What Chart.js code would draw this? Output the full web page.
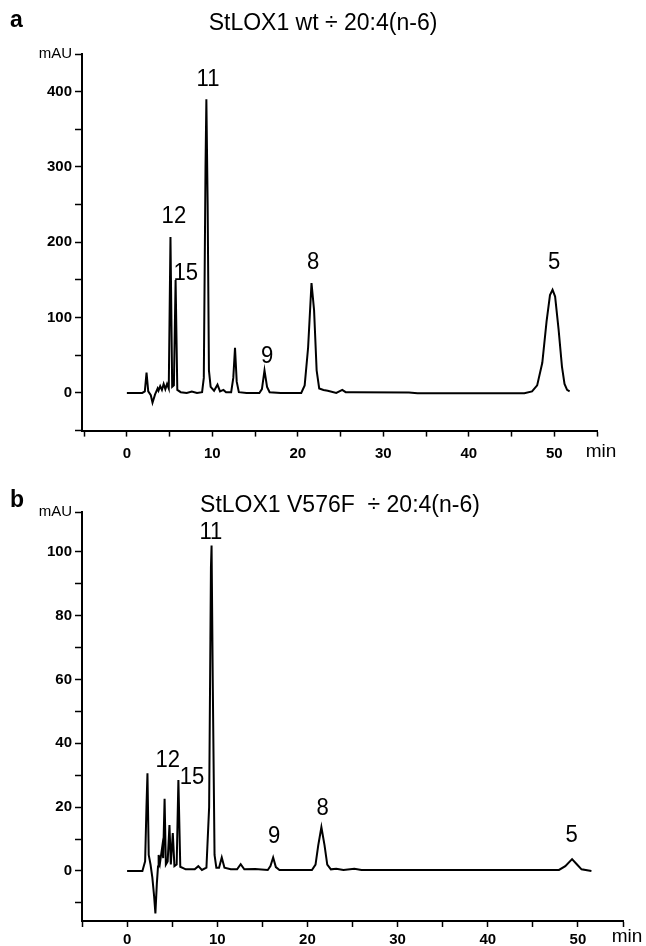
<!DOCTYPE html>
<html>
<head>
<meta charset="utf-8">
<script src="https://cdn.jsdelivr.net/npm/chart.js@4.4.1/dist/chart.umd.min.js"></script>
<style>
  html, body { margin: 0; padding: 0; background: #fff; }
  #page { position: relative; width: 646px; height: 946px; overflow: hidden; font-family: "Liberation Sans", Arial, sans-serif; color: #000; }
  .panel { position: absolute; left: 0; }
  .letter { position: absolute; font-weight: bold; font-size: 23px; line-height: 1; }
  .title { position: absolute; font-size: 23px; line-height: 1; white-space: pre; transform: translateX(-50%); }
</style>
</head>
<body>
<div id="page">
  <canvas id="chartA" class="panel" style="top:0" width="646" height="475"></canvas>
  <canvas id="chartB" class="panel" style="top:475px" width="646" height="471"></canvas>
  <div class="letter" style="left:10px; top:8px">a</div>
  <div class="title" style="left:323px; top:11px">StLOX1 wt ÷ 20:4(n-6)</div>
  <div class="letter" style="left:10px; top:488px">b</div>
  <div class="title" style="left:340px; top:493px">StLOX1 V576F  ÷ 20:4(n-6)</div>
</div>
<script>
// ---- panel a: StLOX1 wt + 20:4(n-6) ----
const timeA = [0, 1.8, 2.1, 2.3, 2.5, 2.8, 3.0, 3.3, 3.6, 3.7, 3.9, 4.1, 4.3, 4.5, 4.7, 4.9,
  5.1, 5.3, 5.5, 5.7, 5.9, 6.3, 7.0, 7.6, 8.2, 8.8, 9.0, 9.2, 9.3, 9.45, 9.6, 9.8,
  10.2, 10.6, 10.9, 11.3, 11.6, 12.2, 12.45, 12.65, 12.85, 13.1, 14, 15.5, 15.8, 16.1,
  16.4, 16.7, 18, 20.4, 20.8, 21.2, 21.6, 21.9, 22.2, 22.5, 23.0, 23.5, 24.5, 25.2,
  25.6, 26.5, 33, 34, 46.5, 47.4, 48.0, 48.6, 49.1, 49.5, 49.8, 50.1, 50.5, 50.9,
  51.2, 51.5, 51.8];
const mauA = [0, 0, 2, 27, 2, -3, -13, -2, 6, 3, 9, 4, 12, 5, 12, 6,
  207, 8, 10, 150, 4, 1, 0, 2, 0, 1, 20, 300, 390, 250, 30, 8,
  3, 11, 2, 4, 1, 1, 20, 60, 15, 1, 0, 0, 5, 30,
  8, 1, 0, 0, 10, 60, 146, 110, 30, 6, 4, 3, 0, 4,
  1, 1, 0.5, -0.5, -0.5, 2, 10, 40, 95, 130, 137, 128, 85, 35,
  12, 4, 2];
const peakNamesA = ['11', '12', '15', '9', '8', '5'];
const peakTimeA = [9.5, 5.5, 6.9, 16.4, 21.8, 50.0];
const peakMauA = [416, 235, 159, 49, 174, 174];
const yTicksA = [-50, 0, 50, 100, 150, 200, 250, 300, 350, 400, 450];
const yLabelsA = [0, 100, 200, 300, 400];

// ---- panel b: StLOX1 V576F + 20:4(n-6) ----
const timeB = [0, 1.7, 2.0, 2.15, 2.26, 2.4, 2.6, 2.8, 3.0, 3.14, 3.3, 3.43, 3.5, 3.65,
  3.9, 4.0, 4.16, 4.3, 4.5, 4.7, 4.85, 5.07, 5.25, 5.5, 5.69, 5.9, 6.5, 7.5, 7.9,
  8.3, 8.8, 9.1, 9.3, 9.37, 9.5, 9.7, 9.9, 10.2, 10.5, 10.8, 11.5, 12.2, 12.6, 13.0,
  14.2, 15.6, 15.9, 16.2, 16.5, 16.9, 20.5, 20.9, 21.2, 21.55, 21.9, 22.2, 22.6, 23.2,
  24, 25.2, 26, 47.9, 48.6, 49.35, 49.9, 50.4, 51.5];
const mauB = [0, 0, 3, 20, 30.6, 5, 2, -2, -8, -13.3, -4, 1.4, 5, 2.5,
  7.6, 4, 22.6, 2, 3, 14.4, 2, 11.9, 1.5, 2, 28.5, 1.3, 0.5, 0.5, 1.5,
  0.3, 1, 20, 95, 102, 60, 5, 1, 1, 4.2, 1, 0.5, 0.5, 2.1, 0.5,
  0.6, 0.3, 1.5, 4.2, 1.2, 0.3, 0.3, 2, 8, 13.7, 8, 2, 0.5, 0.7,
  0.3, 0.7, 0.3, 0.3, 1.5, 3.7, 2, 0.5, 0];
const peakNamesB = ['11', '12', '15', '9', '8', '5'];
const peakTimeB = [9.3, 4.5, 7.2, 16.3, 21.7, 49.3];
const peakMauB = [106, 34.5, 29.2, 10.7, 19.7, 11.0];
const yTicksB = [-10, 0, 10, 20, 30, 40, 50, 60, 70, 80, 90, 100, 112.5];
const yLabelsB = [0, 20, 40, 60, 80, 100];

// shared x axis
const xTicks = [-5, 0, 5, 10, 15, 20, 25, 30, 35, 40, 45, 50, 55];
const xLabels = [0, 10, 20, 30, 40, 50];

const FONT = '"Liberation Sans", Arial, sans-serif';

function peakLabels(names, xs, ys, minOffset) {
  return {
    id: 'peakLabels',
    afterDraw(chart) {
      const { ctx, scales: { x, y }, chartArea } = chart;
      ctx.save();
      ctx.fillStyle = '#000';
      ctx.textAlign = 'center';
      ctx.textBaseline = 'middle';
      ctx.font = '24px ' + FONT;
      names.forEach((n, i) => {
        ctx.save();
        ctx.translate(x.getPixelForValue(xs[i]), y.getPixelForValue(ys[i]));
        ctx.scale(0.92, 1);
        ctx.fillText(n, 0, 0);
        ctx.restore();
      });
      ctx.font = '19px ' + FONT;
      ctx.fillText('min', chartArea.right + 4, chartArea.bottom + minOffset);
      ctx.restore();
    }
  };
}

function drawPanel(id, times, values, opt) {
  const points = times.map((t, i) => ({ x: t, y: values[i] }));
  const topTick = opt.yTicks[opt.yTicks.length - 1];

  return new Chart(document.getElementById(id), {
    type: 'line',
    data: {
      datasets: [{
        data: points,
        borderColor: '#000',
        borderWidth: 2,
        pointRadius: 0,
        tension: 0,
        fill: false
      }]
    },
    options: {
      responsive: false,
      animation: false,
      layout: { padding: { left: 0, top: opt.top, right: opt.right, bottom: 0 } },
      plugins: { legend: { display: false }, tooltip: { enabled: false } },
      scales: {
        x: {
          type: 'linear',
          min: opt.xMin,
          max: 55,
          afterBuildTicks: s => { s.ticks = xTicks.map(v => ({ value: v })); },
          afterFit: s => { s.height = opt.xHeight; },
          border: { color: '#000', width: 2 },
          grid: { drawOnChartArea: false, tickLength: 6, tickColor: '#000', tickWidth: 1.5 },
          ticks: {
            color: '#000',
            padding: opt.xPad,
            autoSkip: false,
            maxRotation: 0,
            font: { family: FONT, size: 15, weight: 'bold' },
            callback: v => xLabels.includes(v) ? String(v) : ''
          }
        },
        y: {
          min: opt.yMin,
          max: topTick,
          afterBuildTicks: s => { s.ticks = opt.yTicks.map(v => ({ value: v })); },
          afterFit: s => { s.width = 82; },
          border: { color: '#000', width: 2 },
          grid: { drawOnChartArea: false, tickLength: 7, tickColor: '#000', tickWidth: 1.5 },
          ticks: {
            color: '#000',
            padding: 3,
            autoSkip: false,
            font: ctx => (ctx.tick && ctx.tick.value === topTick)
              ? { family: FONT, size: 15, weight: 'normal' }
              : { family: FONT, size: 15, weight: 'bold' },
            callback: v => v === topTick ? 'mAU' : (opt.yLabels.includes(v) ? String(v) : '')
          }
        }
      }
    },
    plugins: [peakLabels(opt.names, opt.peakX, opt.peakY, opt.minOffset)]
  });
}

drawPanel('chartA', timeA, mauA, {
  xMin: -5.25, top: 54, right: 49, xHeight: 44.4, xPad: 8, minOffset: 21,
  yMin: -50, yTicks: yTicksA, yLabels: yLabelsA,
  names: peakNamesA, peakX: peakTimeA, peakY: peakMauA
});

drawPanel('chartB', timeB, mauB, {
  xMin: -5, top: 37, right: 23, xHeight: 25, xPad: 4, minOffset: 16,
  yMin: -15.7, yTicks: yTicksB, yLabels: yLabelsB,
  names: peakNamesB, peakX: peakTimeB, peakY: peakMauB
});
</script>
</body>
</html>
